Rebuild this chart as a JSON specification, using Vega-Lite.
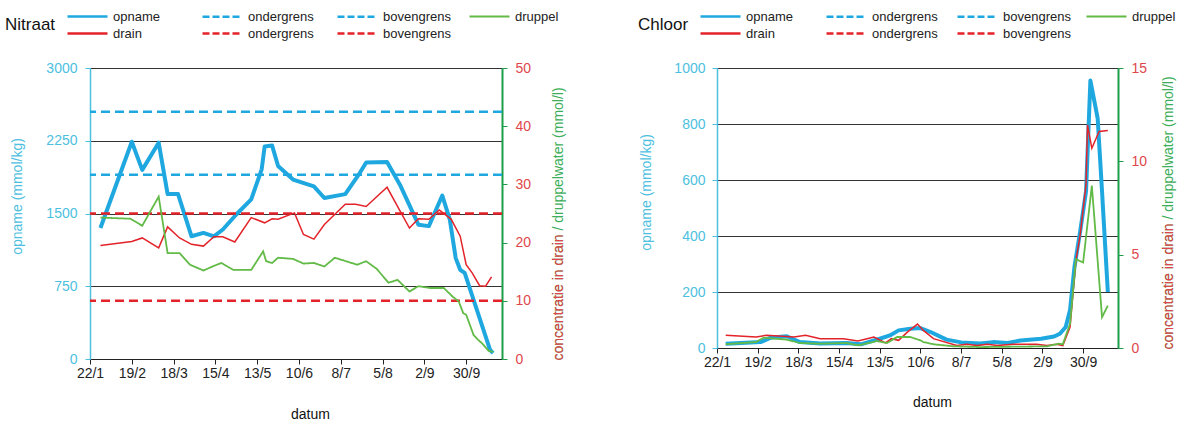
{
  "$schema": "https://vega.github.io/schema/vega-lite/v6.json",
  "autosize": {"type": "pad"},
  "padding": {"left": 5, "top": 10, "right": 5, "bottom": 5},
  "bounds": "flush",
  "spacing": 215,
  "config": {
    "font": "Liberation Sans",
    "view": {"stroke": null},
    "legend": {
      "orient": "none", "gridAlign": "all",
      "symbolType": "M-4,0H4", "symbolSize": 100,
      "labelFontSize": 13, "labelColor": "#222222", "labelOffset": 19,
      "rowPadding": 3,
      "titleOrient": "left", "titleFontSize": 17, "titleFontWeight": "normal",
      "titleColor": "#111111", "titlePadding": 25
    },
    "axisX": {
      "format": "%-d/%-m", "formatType": "utc", "grid": false, "labelFontSize": 14, "labelColor": "#222222", "labelPadding": 2, "tickSize": 5, "tickColor": "#222222", "domainColor": "#222222", "labelFlush": false, "labelOverlap": false,
      "titleFontSize": 14, "titleFontWeight": "normal", "titleColor": "#111111", "titleBaseline": "middle", "titleAlign": "center"
    }
  },
  "datasets": {
    "limieten": [
      {"reeks": "bovengrens opname", "waarde": 2550},
      {"reeks": "ondergrens opname", "waarde": 1900},
      {"reeks": "bovengrens drain", "waarde": 25},
      {"reeks": "ondergrens drain", "waarde": 10}
    ],
    "nitraat": [
      {"datum": "2008-01-29", "reeks": "opname", "waarde": 1350},
      {"datum": "2008-02-19", "reeks": "opname", "waarde": 2240},
      {"datum": "2008-02-26", "reeks": "opname", "waarde": 1950},
      {"datum": "2008-03-08", "reeks": "opname", "waarde": 2230},
      {"datum": "2008-03-14", "reeks": "opname", "waarde": 1700},
      {"datum": "2008-03-21", "reeks": "opname", "waarde": 1700},
      {"datum": "2008-03-30", "reeks": "opname", "waarde": 1265},
      {"datum": "2008-04-07", "reeks": "opname", "waarde": 1300},
      {"datum": "2008-04-14", "reeks": "opname", "waarde": 1265},
      {"datum": "2008-04-20", "reeks": "opname", "waarde": 1335},
      {"datum": "2008-04-29", "reeks": "opname", "waarde": 1490},
      {"datum": "2008-05-09", "reeks": "opname", "waarde": 1645},
      {"datum": "2008-05-16", "reeks": "opname", "waarde": 1955},
      {"datum": "2008-05-18", "reeks": "opname", "waarde": 2190},
      {"datum": "2008-05-23", "reeks": "opname", "waarde": 2200},
      {"datum": "2008-05-27", "reeks": "opname", "waarde": 1990},
      {"datum": "2008-06-06", "reeks": "opname", "waarde": 1850},
      {"datum": "2008-06-20", "reeks": "opname", "waarde": 1780},
      {"datum": "2008-06-27", "reeks": "opname", "waarde": 1660},
      {"datum": "2008-07-11", "reeks": "opname", "waarde": 1700},
      {"datum": "2008-07-20", "reeks": "opname", "waarde": 1900},
      {"datum": "2008-07-25", "reeks": "opname", "waarde": 2025},
      {"datum": "2008-08-08", "reeks": "opname", "waarde": 2030},
      {"datum": "2008-08-17", "reeks": "opname", "waarde": 1785},
      {"datum": "2008-08-29", "reeks": "opname", "waarde": 1385},
      {"datum": "2008-09-05", "reeks": "opname", "waarde": 1370},
      {"datum": "2008-09-14", "reeks": "opname", "waarde": 1685},
      {"datum": "2008-09-19", "reeks": "opname", "waarde": 1440},
      {"datum": "2008-09-23", "reeks": "opname", "waarde": 1040},
      {"datum": "2008-09-26", "reeks": "opname", "waarde": 920},
      {"datum": "2008-09-29", "reeks": "opname", "waarde": 887},
      {"datum": "2008-10-16", "reeks": "opname", "waarde": 93},
      {"datum": "2008-10-18", "reeks": "opname", "waarde": 60},
      {"datum": "2008-01-29", "reeks": "drain", "waarde": 19.5},
      {"datum": "2008-02-19", "reeks": "drain", "waarde": 20.2},
      {"datum": "2008-02-26", "reeks": "drain", "waarde": 20.8},
      {"datum": "2008-03-08", "reeks": "drain", "waarde": 19.1},
      {"datum": "2008-03-14", "reeks": "drain", "waarde": 22.7},
      {"datum": "2008-03-22", "reeks": "drain", "waarde": 20.8},
      {"datum": "2008-03-30", "reeks": "drain", "waarde": 19.7},
      {"datum": "2008-04-07", "reeks": "drain", "waarde": 19.4},
      {"datum": "2008-04-14", "reeks": "drain", "waarde": 21.0},
      {"datum": "2008-04-20", "reeks": "drain", "waarde": 21.0},
      {"datum": "2008-04-28", "reeks": "drain", "waarde": 20.1},
      {"datum": "2008-05-09", "reeks": "drain", "waarde": 24.3},
      {"datum": "2008-05-18", "reeks": "drain", "waarde": 23.4},
      {"datum": "2008-05-23", "reeks": "drain", "waarde": 24.1},
      {"datum": "2008-05-27", "reeks": "drain", "waarde": 24.0},
      {"datum": "2008-06-07", "reeks": "drain", "waarde": 25.1},
      {"datum": "2008-06-13", "reeks": "drain", "waarde": 21.4},
      {"datum": "2008-06-20", "reeks": "drain", "waarde": 20.6},
      {"datum": "2008-06-27", "reeks": "drain", "waarde": 23.1},
      {"datum": "2008-07-11", "reeks": "drain", "waarde": 26.6},
      {"datum": "2008-07-18", "reeks": "drain", "waarde": 26.6},
      {"datum": "2008-07-25", "reeks": "drain", "waarde": 26.2},
      {"datum": "2008-08-08", "reeks": "drain", "waarde": 29.5},
      {"datum": "2008-08-23", "reeks": "drain", "waarde": 22.5},
      {"datum": "2008-08-29", "reeks": "drain", "waarde": 24.1},
      {"datum": "2008-09-05", "reeks": "drain", "waarde": 24.0},
      {"datum": "2008-09-12", "reeks": "drain", "waarde": 25.6},
      {"datum": "2008-09-20", "reeks": "drain", "waarde": 24.0},
      {"datum": "2008-09-26", "reeks": "drain", "waarde": 21.1},
      {"datum": "2008-09-30", "reeks": "drain", "waarde": 16.2},
      {"datum": "2008-10-04", "reeks": "drain", "waarde": 14.8},
      {"datum": "2008-10-09", "reeks": "drain", "waarde": 12.6},
      {"datum": "2008-10-13", "reeks": "drain", "waarde": 12.5},
      {"datum": "2008-10-17", "reeks": "drain", "waarde": 14.1},
      {"datum": "2008-01-29", "reeks": "druppel", "waarde": 24.3},
      {"datum": "2008-02-18", "reeks": "druppel", "waarde": 24.1},
      {"datum": "2008-02-26", "reeks": "druppel", "waarde": 22.9},
      {"datum": "2008-03-08", "reeks": "druppel", "waarde": 27.9},
      {"datum": "2008-03-14", "reeks": "druppel", "waarde": 18.2},
      {"datum": "2008-03-22", "reeks": "druppel", "waarde": 18.2},
      {"datum": "2008-03-29", "reeks": "druppel", "waarde": 16.2},
      {"datum": "2008-04-07", "reeks": "druppel", "waarde": 15.2},
      {"datum": "2008-04-14", "reeks": "druppel", "waarde": 16.0},
      {"datum": "2008-04-19", "reeks": "druppel", "waarde": 16.5},
      {"datum": "2008-04-27", "reeks": "druppel", "waarde": 15.3},
      {"datum": "2008-05-09", "reeks": "druppel", "waarde": 15.3},
      {"datum": "2008-05-17", "reeks": "druppel", "waarde": 18.5},
      {"datum": "2008-05-19", "reeks": "druppel", "waarde": 16.8},
      {"datum": "2008-05-23", "reeks": "druppel", "waarde": 16.5},
      {"datum": "2008-05-27", "reeks": "druppel", "waarde": 17.4},
      {"datum": "2008-06-06", "reeks": "druppel", "waarde": 17.2},
      {"datum": "2008-06-13", "reeks": "druppel", "waarde": 16.4},
      {"datum": "2008-06-20", "reeks": "druppel", "waarde": 16.5},
      {"datum": "2008-06-27", "reeks": "druppel", "waarde": 15.9},
      {"datum": "2008-07-04", "reeks": "druppel", "waarde": 17.4},
      {"datum": "2008-07-19", "reeks": "druppel", "waarde": 16.2},
      {"datum": "2008-07-25", "reeks": "druppel", "waarde": 16.8},
      {"datum": "2008-08-01", "reeks": "druppel", "waarde": 15.5},
      {"datum": "2008-08-09", "reeks": "druppel", "waarde": 13.1},
      {"datum": "2008-08-15", "reeks": "druppel", "waarde": 13.6},
      {"datum": "2008-08-23", "reeks": "druppel", "waarde": 11.6},
      {"datum": "2008-08-29", "reeks": "druppel", "waarde": 12.5},
      {"datum": "2008-09-06", "reeks": "druppel", "waarde": 12.2},
      {"datum": "2008-09-15", "reeks": "druppel", "waarde": 12.2},
      {"datum": "2008-09-21", "reeks": "druppel", "waarde": 10.7},
      {"datum": "2008-09-25", "reeks": "druppel", "waarde": 9.9},
      {"datum": "2008-09-28", "reeks": "druppel", "waarde": 7.9},
      {"datum": "2008-09-30", "reeks": "druppel", "waarde": 7.6},
      {"datum": "2008-10-05", "reeks": "druppel", "waarde": 4.1},
      {"datum": "2008-10-08", "reeks": "druppel", "waarde": 3.3},
      {"datum": "2008-10-11", "reeks": "druppel", "waarde": 2.6},
      {"datum": "2008-10-15", "reeks": "druppel", "waarde": 1.4},
      {"datum": "2008-10-18", "reeks": "druppel", "waarde": 1.2}
    ],
    "chloor": [
      {"datum": "2008-01-28", "reeks": "opname", "waarde": 15},
      {"datum": "2008-02-21", "reeks": "opname", "waarde": 21},
      {"datum": "2008-02-28", "reeks": "opname", "waarde": 37},
      {"datum": "2008-03-10", "reeks": "opname", "waarde": 42},
      {"datum": "2008-03-19", "reeks": "opname", "waarde": 21},
      {"datum": "2008-04-02", "reeks": "opname", "waarde": 16},
      {"datum": "2008-04-20", "reeks": "opname", "waarde": 18},
      {"datum": "2008-04-30", "reeks": "opname", "waarde": 13},
      {"datum": "2008-05-13", "reeks": "opname", "waarde": 33},
      {"datum": "2008-05-20", "reeks": "opname", "waarde": 45},
      {"datum": "2008-05-26", "reeks": "opname", "waarde": 63},
      {"datum": "2008-06-03", "reeks": "opname", "waarde": 69},
      {"datum": "2008-06-10", "reeks": "opname", "waarde": 71},
      {"datum": "2008-06-17", "reeks": "opname", "waarde": 57},
      {"datum": "2008-06-28", "reeks": "opname", "waarde": 30},
      {"datum": "2008-07-08", "reeks": "opname", "waarde": 20},
      {"datum": "2008-07-21", "reeks": "opname", "waarde": 16},
      {"datum": "2008-07-30", "reeks": "opname", "waarde": 21},
      {"datum": "2008-08-09", "reeks": "opname", "waarde": 18},
      {"datum": "2008-08-18", "reeks": "opname", "waarde": 27},
      {"datum": "2008-09-01", "reeks": "opname", "waarde": 33},
      {"datum": "2008-09-10", "reeks": "opname", "waarde": 41},
      {"datum": "2008-09-14", "reeks": "opname", "waarde": 51},
      {"datum": "2008-09-18", "reeks": "opname", "waarde": 75},
      {"datum": "2008-09-21", "reeks": "opname", "waarde": 136},
      {"datum": "2008-09-24", "reeks": "opname", "waarde": 288},
      {"datum": "2008-09-28", "reeks": "opname", "waarde": 418},
      {"datum": "2008-10-02", "reeks": "opname", "waarde": 560},
      {"datum": "2008-10-05", "reeks": "opname", "waarde": 955},
      {"datum": "2008-10-10", "reeks": "opname", "waarde": 820},
      {"datum": "2008-10-13", "reeks": "opname", "waarde": 560},
      {"datum": "2008-10-17", "reeks": "opname", "waarde": 200},
      {"datum": "2008-01-28", "reeks": "drain", "waarde": 0.68},
      {"datum": "2008-02-18", "reeks": "drain", "waarde": 0.59},
      {"datum": "2008-02-25", "reeks": "drain", "waarde": 0.68},
      {"datum": "2008-03-15", "reeks": "drain", "waarde": 0.59},
      {"datum": "2008-03-23", "reeks": "drain", "waarde": 0.68},
      {"datum": "2008-04-02", "reeks": "drain", "waarde": 0.5},
      {"datum": "2008-04-18", "reeks": "drain", "waarde": 0.5},
      {"datum": "2008-04-28", "reeks": "drain", "waarde": 0.37},
      {"datum": "2008-05-09", "reeks": "drain", "waarde": 0.59},
      {"datum": "2008-05-17", "reeks": "drain", "waarde": 0.27},
      {"datum": "2008-05-21", "reeks": "drain", "waarde": 0.5},
      {"datum": "2008-05-26", "reeks": "drain", "waarde": 0.41},
      {"datum": "2008-06-01", "reeks": "drain", "waarde": 0.85},
      {"datum": "2008-06-08", "reeks": "drain", "waarde": 1.28},
      {"datum": "2008-06-12", "reeks": "drain", "waarde": 0.94},
      {"datum": "2008-06-19", "reeks": "drain", "waarde": 0.5},
      {"datum": "2008-07-05", "reeks": "drain", "waarde": 0.14},
      {"datum": "2008-07-12", "reeks": "drain", "waarde": 0.2},
      {"datum": "2008-07-19", "reeks": "drain", "waarde": 0.13},
      {"datum": "2008-07-26", "reeks": "drain", "waarde": 0.2},
      {"datum": "2008-08-02", "reeks": "drain", "waarde": 0.14},
      {"datum": "2008-08-13", "reeks": "drain", "waarde": 0.2},
      {"datum": "2008-08-29", "reeks": "drain", "waarde": 0.2},
      {"datum": "2008-09-05", "reeks": "drain", "waarde": 0.13},
      {"datum": "2008-09-12", "reeks": "drain", "waarde": 0.2},
      {"datum": "2008-09-16", "reeks": "drain", "waarde": 0.13},
      {"datum": "2008-09-21", "reeks": "drain", "waarde": 1.12},
      {"datum": "2008-09-25", "reeks": "drain", "waarde": 4.67},
      {"datum": "2008-09-28", "reeks": "drain", "waarde": 6.09},
      {"datum": "2008-10-02", "reeks": "drain", "waarde": 8.75},
      {"datum": "2008-10-03", "reeks": "drain", "waarde": 11.95},
      {"datum": "2008-10-06", "reeks": "drain", "waarde": 10.7},
      {"datum": "2008-10-11", "reeks": "drain", "waarde": 11.6},
      {"datum": "2008-10-17", "reeks": "drain", "waarde": 11.65},
      {"datum": "2008-01-28", "reeks": "druppel", "waarde": 0.2},
      {"datum": "2008-02-18", "reeks": "druppel", "waarde": 0.32},
      {"datum": "2008-02-23", "reeks": "druppel", "waarde": 0.55},
      {"datum": "2008-03-10", "reeks": "druppel", "waarde": 0.45},
      {"datum": "2008-03-19", "reeks": "druppel", "waarde": 0.27},
      {"datum": "2008-04-02", "reeks": "druppel", "waarde": 0.23},
      {"datum": "2008-04-20", "reeks": "druppel", "waarde": 0.27},
      {"datum": "2008-04-28", "reeks": "druppel", "waarde": 0.14},
      {"datum": "2008-05-11", "reeks": "druppel", "waarde": 0.37},
      {"datum": "2008-05-18", "reeks": "druppel", "waarde": 0.27},
      {"datum": "2008-05-25", "reeks": "druppel", "waarde": 0.59},
      {"datum": "2008-06-03", "reeks": "druppel", "waarde": 0.59},
      {"datum": "2008-06-10", "reeks": "druppel", "waarde": 0.41},
      {"datum": "2008-06-12", "reeks": "druppel", "waarde": 0.32},
      {"datum": "2008-06-19", "reeks": "druppel", "waarde": 0.2},
      {"datum": "2008-07-03", "reeks": "druppel", "waarde": 0.09},
      {"datum": "2008-07-21", "reeks": "druppel", "waarde": 0.05},
      {"datum": "2008-09-05", "reeks": "druppel", "waarde": 0.09},
      {"datum": "2008-09-13", "reeks": "druppel", "waarde": 0.23},
      {"datum": "2008-09-16", "reeks": "druppel", "waarde": 0.2},
      {"datum": "2008-09-21", "reeks": "druppel", "waarde": 1.3},
      {"datum": "2008-09-25", "reeks": "druppel", "waarde": 4.76},
      {"datum": "2008-09-30", "reeks": "druppel", "waarde": 4.58},
      {"datum": "2008-10-06", "reeks": "druppel", "waarde": 8.7},
      {"datum": "2008-10-13", "reeks": "druppel", "waarde": 1.65},
      {"datum": "2008-10-17", "reeks": "druppel", "waarde": 2.27}
    ]
  },
  "hconcat": [
    {
      "width": 412, "height": 291,
      "layer": [
        {
          "layer": [
            {
              "data": {"name": "limieten"},
              "transform": [{"filter": "datum.reeks === 'ondergrens opname' || datum.reeks === 'bovengrens opname'"}],
              "mark": {"type": "rule", "strokeWidth": 2.5, "strokeDash": [9, 5]},
              "encoding": {
                "y": {"field": "waarde", "type": "quantitative"},
                "stroke": {"field": "reeks", "type": "nominal",
                  "scale": {"domain": ["ondergrens opname", "bovengrens opname", "ondergrens drain", "bovengrens drain"], "range": ["#1FA8E0", "#1FA8E0", "#E3232A", "#E3232A"]},
                  "legend": {"title": null, "legendX": 126, "legendY": -58, "direction": "horizontal", "columns": 2, "columnPadding": 16, "symbolDash": [7, 3], "symbolStrokeWidth": 2.5, "labelExpr": "split(datum.label, ' ')[0]"}}
              }
            },
            {
              "data": {"name": "nitraat"},
              "transform": [{"filter": "datum.reeks === 'opname'"}],
              "mark": {"type": "line", "strokeWidth": 4, "strokeJoin": "round"},
              "encoding": {
                "x": {"field": "datum", "type": "temporal", "title": "datum",
                  "axis": {"titleX": 220, "titleY": 55, "values": ["2008-01-22", "2008-02-19", "2008-03-18", "2008-04-15", "2008-05-13", "2008-06-10", "2008-07-08", "2008-08-05", "2008-09-02", "2008-09-30"]},
                  "scale": {"type": "utc", "nice": false, "domain": ["2008-01-22", "2008-10-24"]}},
                "y": {"field": "waarde", "type": "quantitative", "scale": {"domain": [0, 3000], "nice": false},
                  "axis": {"orient": "left", "values": [0, 750, 1500, 2250, 3000], "format": "d", "title": "opname (mmol/kg)", "titleColor": "#4DBFE0", "titleFontSize": 14, "titleFontWeight": "normal", "titleX": -73, "titleY": 128, "titleAngle": 270, "titleAlign": "center", "titleBaseline": "middle",
                    "labelColor": "#4DBFE0", "labelFontSize": 14, "labelPadding": 8, "tickSize": 5, "tickColor": "#4DBFE0", "domainColor": "#4DBFE0", "domainWidth": 1.5, "grid": true, "gridColor": "#333333", "gridWidth": 1}},
                "color": {"field": "reeks", "type": "nominal",
                  "scale": {"domain": ["opname", "drain", "druppel"], "range": ["#1FA8E0", "#E3232A", "#62BA47"]},
                  "legend": {"title": "Nitraat", "values": ["opname", "drain"], "legendX": -85, "legendY": -58, "direction": "vertical", "columns": 1, "symbolStrokeWidth": 2.5}}
              }
            }
          ]
        },
        {
          "layer": [
            {
              "data": {"name": "limieten"},
              "transform": [{"filter": "datum.reeks === 'ondergrens drain' || datum.reeks === 'bovengrens drain'"}],
              "mark": {"type": "rule", "strokeWidth": 2.5, "strokeDash": [9, 5]},
              "encoding": {
                "y": {"field": "waarde", "type": "quantitative"},
                "stroke": {"field": "reeks", "type": "nominal"}
              }
            },
            {
              "data": {"name": "nitraat"},
              "transform": [{"filter": "datum.reeks === 'drain'"}],
              "mark": {"type": "line", "strokeWidth": 1.5},
              "encoding": {
                "x": {"field": "datum", "type": "temporal"},
                "y": {"field": "waarde", "type": "quantitative", "scale": {"domain": [0, 50], "nice": false},
                  "axis": {"orient": "right", "values": [0, 10, 20, 30, 40, 50], "grid": false, "labelColor": "#E0474C", "labelFontSize": 14, "labelPadding": 8, "tickSize": 5, "tickColor": "#1E9E4A", "domainColor": "#1E9E4A", "domainWidth": 2,
                    "title": "concentratie  in drain / druppelwater (mmol/l)", "titleColor": "#3DAE5A", "titleFontSize": 14, "titleFontWeight": "normal", "titleAngle": 270, "titleAlign": "left", "titleBaseline": "middle", "titleX": 56, "titleY": 292}},
                "color": {"field": "reeks", "type": "nominal"}
              }
            }
          ]
        },
        {
          "data": {"name": "nitraat"},
          "transform": [{"filter": "datum.reeks === 'druppel'"}],
          "mark": {"type": "line", "strokeWidth": 1.8},
          "encoding": {
            "x": {"field": "datum", "type": "temporal"},
            "y": {"field": "waarde", "type": "quantitative", "scale": {"domain": [0, 50], "nice": false},
              "axis": {"orient": "right", "labels": false, "ticks": false, "domain": false, "grid": false,
                "title": "concentratie  in drain", "titleColor": "#E0474C", "titleFontSize": 14, "titleFontWeight": "normal", "titleAngle": 270, "titleAlign": "left", "titleBaseline": "middle", "titleX": 56, "titleY": 292}},
            "color": {"field": "reeks", "type": "nominal"},
            "strokeDash": {"field": "reeks", "type": "nominal",
              "scale": {"domain": ["druppel"], "range": [[1, 0]]},
              "legend": {"title": null, "legendX": 393, "legendY": -58, "symbolStrokeColor": "#62BA47", "symbolStrokeWidth": 1.8}}
          }
        }
      ],
      "resolve": {"scale": {"y": "independent"}}
    },
    {
      "width": 401, "height": 280,
      "layer": [
        {
          "layer": [
            {
              "data": {"name": "limieten"},
              "transform": [{"filter": "false"}],
              "mark": {"type": "rule", "strokeWidth": 2.5, "strokeDash": [9, 5]},
              "encoding": {
                "y": {"field": "waarde", "type": "quantitative"},
                "stroke": {"field": "reeks", "type": "nominal",
                  "scale": {"domain": ["ondergrens opname", "bovengrens opname", "ondergrens drain", "bovengrens drain"], "range": ["#1FA8E0", "#1FA8E0", "#E3232A", "#E3232A"]},
                  "legend": {"title": null, "legendX": 123, "legendY": -58, "direction": "horizontal", "columns": 2, "columnPadding": 12, "symbolDash": [7, 3], "symbolStrokeWidth": 2.5, "labelExpr": "split(datum.label, ' ')[0]"}}
              }
            },
            {
              "data": {"name": "chloor"},
              "transform": [{"filter": "datum.reeks === 'opname'"}],
              "mark": {"type": "line", "strokeWidth": 4, "strokeJoin": "round"},
              "encoding": {
                "x": {"field": "datum", "type": "temporal", "title": "datum",
                  "axis": {"titleX": 215, "titleY": 54, "values": ["2008-01-22", "2008-02-19", "2008-03-18", "2008-04-15", "2008-05-13", "2008-06-10", "2008-07-08", "2008-08-05", "2008-09-02", "2008-09-30"]},
                  "scale": {"type": "utc", "nice": false, "domain": ["2008-01-22", "2008-10-24"]}},
                "y": {"field": "waarde", "type": "quantitative", "scale": {"domain": [0, 1000], "nice": false},
                  "axis": {"orient": "left", "values": [0, 200, 400, 600, 800, 1000], "format": "d", "title": "opname (mmol/kg)", "titleColor": "#4DBFE0", "titleFontSize": 14, "titleFontWeight": "normal", "titleX": -71, "titleY": 124, "titleAngle": 270, "titleAlign": "center", "titleBaseline": "middle",
                    "labelColor": "#4DBFE0", "labelFontSize": 14, "labelPadding": 7, "tickSize": 5, "tickColor": "#4DBFE0", "domainColor": "#4DBFE0", "domainWidth": 1.5, "grid": true, "gridColor": "#333333", "gridWidth": 1}},
                "color": {"field": "reeks", "type": "nominal",
                  "scale": {"domain": ["opname", "drain", "druppel"], "range": ["#1FA8E0", "#E3232A", "#62BA47"]},
                  "legend": {"title": "Chloor", "values": ["opname", "drain"], "legendX": -79, "legendY": -58, "direction": "vertical", "columns": 1, "symbolStrokeWidth": 2.5}}
              }
            }
          ]
        },
        {
          "data": {"name": "chloor"},
          "transform": [{"filter": "datum.reeks === 'drain'"}],
          "mark": {"type": "line", "strokeWidth": 1.5},
          "encoding": {
            "x": {"field": "datum", "type": "temporal"},
            "y": {"field": "waarde", "type": "quantitative", "scale": {"domain": [0, 15], "nice": false},
              "axis": {"orient": "right", "values": [0, 5, 10, 15], "grid": false, "labelColor": "#E0474C", "labelFontSize": 14, "labelPadding": 8, "tickSize": 5, "tickColor": "#1E9E4A", "domainColor": "#1E9E4A", "domainWidth": 2,
                "title": "concentratie  in drain / druppelwater (mmol/l)", "titleColor": "#3DAE5A", "titleFontSize": 14, "titleFontWeight": "normal", "titleAngle": 270, "titleAlign": "left", "titleBaseline": "middle", "titleX": 50, "titleY": 281}},
            "color": {"field": "reeks", "type": "nominal"}
          }
        },
        {
          "data": {"name": "chloor"},
          "transform": [{"filter": "datum.reeks === 'druppel'"}],
          "mark": {"type": "line", "strokeWidth": 1.8},
          "encoding": {
            "x": {"field": "datum", "type": "temporal"},
            "y": {"field": "waarde", "type": "quantitative", "scale": {"domain": [0, 15], "nice": false},
              "axis": {"orient": "right", "labels": false, "ticks": false, "domain": false, "grid": false,
                "title": "concentratie  in drain", "titleColor": "#E0474C", "titleFontSize": 14, "titleFontWeight": "normal", "titleAngle": 270, "titleAlign": "left", "titleBaseline": "middle", "titleX": 50, "titleY": 281}},
            "color": {"field": "reeks", "type": "nominal"},
            "strokeDash": {"field": "reeks", "type": "nominal",
              "scale": {"domain": ["druppel"], "range": [[1, 0]]},
              "legend": {"title": null, "legendX": 383, "legendY": -58, "symbolStrokeColor": "#62BA47", "symbolStrokeWidth": 1.8}}
          }
        }
      ],
      "resolve": {"scale": {"y": "independent"}}
    }
  ],
  "resolve": {
    "scale": {"color": "independent", "stroke": "independent", "strokeDash": "independent"},
    "legend": {"color": "independent", "stroke": "independent", "strokeDash": "independent"}
  }
}
